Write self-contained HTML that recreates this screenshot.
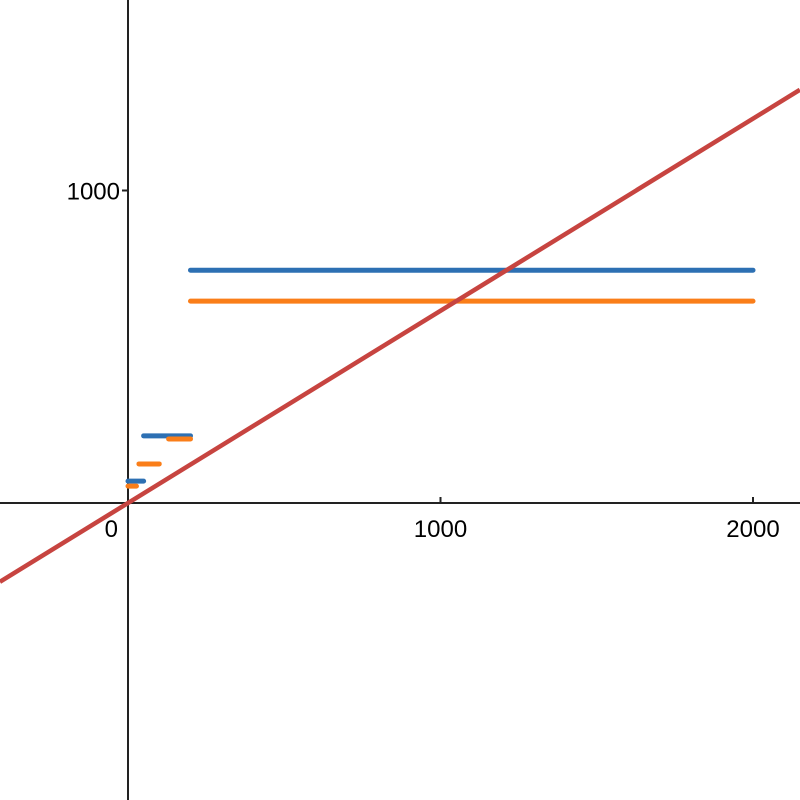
<!DOCTYPE html>
<html><head><meta charset="utf-8"><style>
html,body{margin:0;padding:0;background:#fff;}
svg{display:block;font-family:"Liberation Sans",Arial,sans-serif;}
</style></head><body>
<svg id="chart" width="800" height="800" viewBox="0 0 800 800"></svg>
<script>
const segStartX = [0, 0, 35, 50, 130, 200, 200];
const segEndX   = [50, 27, 100, 200, 200, 2000, 2000];
const segY      = [70, 54, 125, 215, 205, 745, 646];
const segSeries = ['blue','orange','orange','blue','orange','blue','orange'];
const lineSlope = [0.615];
const xTicks = [1000, 2000];
const xTickLabels = ['1000', '2000'];
const yTicks = [1000];
const yTickLabels = ['1000'];

const ns = 'http://www.w3.org/2000/svg';
const svg = document.getElementById('chart');
const k = 0.3125;
const X = v => 128 + v * k;
const Y = v => 503 - v * k;
const colors = {blue:'#2d70b3', orange:'#fa7e19', red:'#c74440'};
function mk(t, a){const e=document.createElementNS(ns,t);for(const n in a)e.setAttribute(n,a[n]);svg.appendChild(e);return e;}

const xa = mk('line',{x1:0,y1:Y(0),x2:800,y2:Y(0),stroke:'#222','stroke-width':2});


const ya = mk('line',{x1:X(0),y1:0,x2:X(0),y2:800,stroke:'#222','stroke-width':2});



const z = mk('text',{x:X(0)-10,y:Y(0)+34,'font-size':24,'text-anchor':'end',fill:'#000'});
z.textContent='0';



xTicks.forEach((t,i)=>{
  const m = mk('line',{x1:X(t),y1:Y(0)-6,x2:X(t),y2:Y(0),stroke:'#222','stroke-width':2});
  
  
  const l = mk('text',{x:X(t),y:Y(0)+34,'font-size':24,'text-anchor':'middle',fill:'#000'});
  l.textContent = xTickLabels[i];
  
  
});
yTicks.forEach((t,i)=>{
  const m = mk('line',{x1:X(0)-6,y1:Y(t),x2:X(0),y2:Y(t),stroke:'#222','stroke-width':2});
  
  
  const l = mk('text',{x:X(0)-8,y:Y(t)+9,'font-size':24,'text-anchor':'end',fill:'#000'});
  l.textContent = yTickLabels[i];
  
  
});

segY.forEach((v,i)=>{
  const s = mk('line',{x1:X(segStartX[i]),y1:Y(v),x2:X(segEndX[i]),y2:Y(v),stroke:colors[segSeries[i]],'stroke-width':5,'stroke-linecap':'round'});
  
  
});

const xmin=-410, xmax=2150;
const r = mk('line',{x1:X(xmin),y1:Y(lineSlope[0]*xmin),x2:X(xmax),y2:Y(lineSlope[0]*xmax),stroke:colors.red,'stroke-width':4.5});


</script>
</body></html>
